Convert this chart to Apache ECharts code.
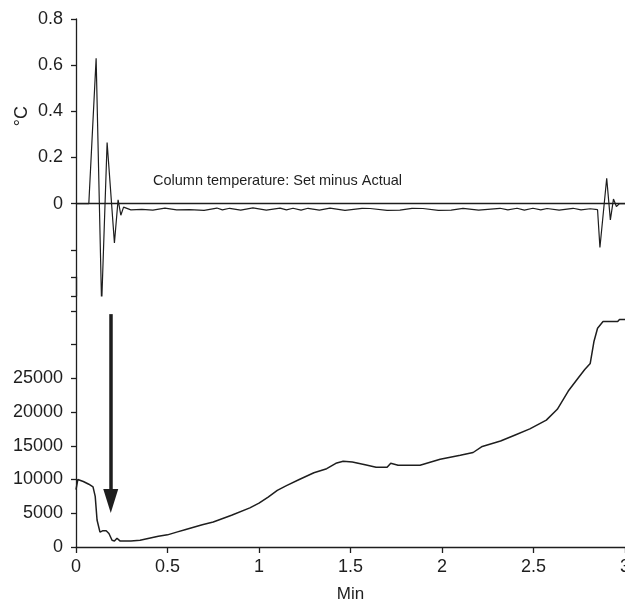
<!DOCTYPE html>
<html>
<head>
<meta charset="utf-8">
<script src="https://cdn.jsdelivr.net/npm/echarts@6/dist/echarts.min.js"></script>
<style>
html,body{margin:0;padding:0;background:#fff;}
#chart{width:625px;height:599px;}
</style>
</head>
<body>
<div id="chart"></div>
<script>
// Upper trace: column temperature, set minus actual (°C) vs time (min)
var tempTime = [0, 0.07, 0.11, 0.14, 0.17, 0.21, 0.23, 0.245, 0.26, 0.268, 0.30, 0.36, 0.42, 0.486, 0.55, 0.62, 0.70, 0.77, 0.80, 0.84, 0.90, 0.967, 1.04, 1.115, 1.15, 1.186, 1.23, 1.268, 1.33, 1.388, 1.47, 1.563, 1.607, 1.70, 1.77, 1.836, 1.896, 1.98, 2.05, 2.115, 2.2, 2.317, 2.36, 2.41, 2.45, 2.497, 2.54, 2.574, 2.64, 2.716, 2.76, 2.81, 2.85, 2.863, 2.90, 2.92, 2.937, 2.953, 2.97, 3.0];
var tempDiff = [0, 0, 0.63, -0.44, 0.265, -0.17, 0.017, -0.05, -0.015, -0.022, -0.027, -0.025, -0.028, -0.019, -0.027, -0.026, -0.029, -0.019, -0.027, -0.02, -0.028, -0.018, -0.028, -0.019, -0.027, -0.02, -0.028, -0.02, -0.028, -0.019, -0.029, -0.02, -0.021, -0.029, -0.028, -0.02, -0.021, -0.029, -0.028, -0.02, -0.028, -0.02, -0.027, -0.02, -0.028, -0.02, -0.027, -0.021, -0.028, -0.02, -0.027, -0.022, -0.026, -0.19, 0.11, -0.07, 0.02, -0.012, 0, 0];

// Lower trace: signal intensity vs time (min)
var sigTime = [0, 0.01, 0.04, 0.07, 0.093, 0.105, 0.115, 0.131, 0.145, 0.165, 0.18, 0.197, 0.21, 0.224, 0.24, 0.3, 0.35, 0.4, 0.45, 0.5, 0.55, 0.6, 0.69, 0.75, 0.85, 0.95, 1.0, 1.05, 1.1, 1.15, 1.22, 1.3, 1.37, 1.42, 1.46, 1.51, 1.58, 1.64, 1.70, 1.72, 1.76, 1.88, 1.99, 2.1, 2.17, 2.22, 2.32, 2.4, 2.48, 2.57, 2.63, 2.69, 2.74, 2.78, 2.81, 2.83, 2.85, 2.88, 2.96, 2.97, 3.0];
var sigValue = [8500, 10000, 9700, 9300, 8900, 7500, 4000, 2200, 2400, 2400, 2000, 1000, 900, 1300, 900, 900, 1000, 1300, 1600, 1800, 2200, 2600, 3300, 3700, 4700, 5800, 6500, 7400, 8400, 9100, 10000, 11000, 11600, 12400, 12700, 12600, 12200, 11800, 11800, 12400, 12100, 12100, 13000, 13600, 14000, 14900, 15700, 16600, 17500, 18800, 20400, 23100, 24900, 26300, 27200, 30400, 32400, 33400, 33400, 33700, 33700];

var xTicks = [0, 0.5, 1, 1.5, 2, 2.5, 3];
var tempTicks = [-0.4, -0.2, 0, 0.2, 0.4, 0.6, 0.8];
var sigTicks = [0, 5000, 10000, 15000, 20000, 25000, 30000, 35000, 40000];
var arrowTime = 0.19, arrowFrom = 34500, arrowTo = 6800;

function zip(a, b) { return a.map(function (v, i) { return [v, b[i]]; }); }

var ink = '#1e1e1e';
var font = 'Liberation Sans, Arial, sans-serif';
var chart = echarts.init(document.getElementById('chart'));
chart.setOption({
  animation: false,
  backgroundColor: '#fff',
  grid: [
    { left: 76, right: 0, top: 19, bottom: 303, containLabel: false, outerBoundsMode: 'none' },
    { left: 76, right: 0, top: 277, bottom: 52, containLabel: false, outerBoundsMode: 'none' }
  ],
  xAxis: [
    { gridIndex: 0, type: 'value', min: xTicks[0], max: xTicks[xTicks.length - 1], interval: 0.5,
      axisLine: { show: true, onZero: true, lineStyle: { color: ink, width: 1.3 } },
      axisTick: { show: false }, axisLabel: { show: false }, splitLine: { show: false } },
    { gridIndex: 1, type: 'value', min: xTicks[0], max: xTicks[xTicks.length - 1], interval: 0.5,
      name: 'Min', nameLocation: 'middle', nameGap: 39,
      nameTextStyle: { color: ink, fontSize: 17, fontFamily: font },
      axisLine: { onZero: false, lineStyle: { color: ink, width: 1.3 } },
      axisTick: { show: true, length: 6, lineStyle: { color: ink, width: 1.3 } },
      axisLabel: { color: ink, fontSize: 18, fontFamily: font, margin: 11, showMaxLabel: true,
        formatter: function (v) { return String(+v.toFixed(1)); } },
      splitLine: { show: false } }
  ],
  yAxis: [
    { gridIndex: 0, type: 'value', min: tempTicks[0], max: tempTicks[tempTicks.length - 1], interval: 0.2,
      axisLine: { show: true, onZero: false, lineStyle: { color: ink, width: 1.3 } },
      axisTick: { show: true, length: 5, lineStyle: { color: ink, width: 1.3 } },
      axisLabel: { color: ink, fontSize: 18, fontFamily: font, margin: 13,
        formatter: function (v) { return v < -1e-9 ? '' : String(+v.toFixed(1)); } },
      splitLine: { show: false } },
    { gridIndex: 1, type: 'value', min: sigTicks[0], max: sigTicks[sigTicks.length - 1], interval: 5000,
      axisLine: { show: true, onZero: false, lineStyle: { color: ink, width: 1.3 } },
      axisTick: { show: true, length: 5, lineStyle: { color: ink, width: 1.3 } },
      axisLabel: { color: ink, fontSize: 18, fontFamily: font, margin: 13,
        formatter: function (v) { return v > 25000 ? '' : String(v); } },
      splitLine: { show: false } }
  ],
  graphic: [
    { type: 'text', left: 13, top: 106, rotation: Math.PI / 2,
      style: { text: '°C', fill: ink, font: '18px ' + font } },
    { type: 'text', left: 153, top: 173,
      style: { text: 'Column temperature: Set minus Actual', fill: ink, font: '14.5px ' + font } }
  ],
  series: [
    { type: 'line', xAxisIndex: 0, yAxisIndex: 0, data: zip(tempTime, tempDiff),
      showSymbol: false, symbol: 'none', lineStyle: { color: ink, width: 1.2 }, silent: true },
    { type: 'line', xAxisIndex: 1, yAxisIndex: 1, data: zip(sigTime, sigValue),
      showSymbol: false, symbol: 'none', lineStyle: { color: ink, width: 1.5 }, silent: true,
      markLine: { silent: true, symbol: ['none', 'triangle'], symbolSize: [15, 24],
        label: { show: false },
        lineStyle: { color: ink, width: 3.5, type: 'solid' },
        data: [[{ coord: [arrowTime, arrowFrom] }, { coord: [arrowTime, arrowTo] }]] } }
  ]
});
</script>
</body>
</html>
